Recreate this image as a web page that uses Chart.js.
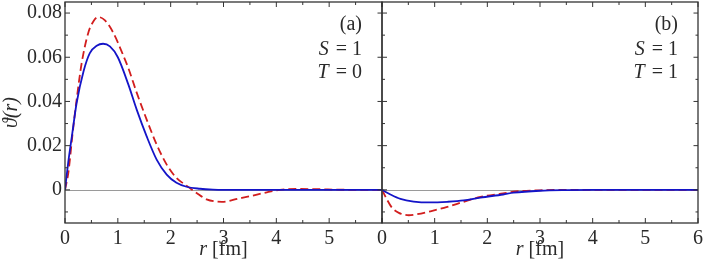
<!DOCTYPE html>
<html>
<head>
<meta charset="utf-8">
<script src="https://cdn.jsdelivr.net/npm/chart.js@4/dist/chart.umd.min.js"></script>
<style>
html,body{margin:0;padding:0;background:#fff;}
#wrap{position:relative;width:706px;height:266px;}
canvas{position:absolute;left:0;top:0;}
</style>
</head>
<body>
<div id="wrap">
<canvas id="cA" width="706" height="266"></canvas>
<canvas id="cB" width="706" height="266"></canvas>
</div>
<script>
// ---- data ----
// panel (a): S = 1, T = 0
const rBlueA = [0, 0.06, 0.13, 0.22, 0.35, 0.47, 0.6, 0.72, 0.85, 1.0, 1.2, 1.357, 1.546, 1.735, 1.925, 2.11, 2.30, 2.555, 2.8, 3.0, 3.5, 4, 5, 6];
const vBlueA = [0, 0.0122, 0.0242, 0.0393, 0.0536, 0.0619, 0.0652, 0.0661, 0.0649, 0.0600, 0.0476, 0.0363, 0.0242, 0.0137, 0.0069, 0.0032, 0.0014, 0.0005, 0.0001, 0, 0, 0, 0, 0];
const rRedA = [0, 0.063, 0.145, 0.22, 0.316, 0.44, 0.536, 0.63, 0.757, 0.915, 1.1, 1.2, 1.357, 1.546, 1.735, 1.925, 2.11, 2.30, 2.49, 2.68, 2.97, 3.31, 3.5, 3.82, 4.07, 4.4, 4.8, 5.14, 5.5, 6];
const vRedA = [0, 0.0077, 0.0258, 0.0408, 0.0574, 0.0710, 0.0762, 0.0782, 0.0767, 0.0710, 0.0610, 0.0550, 0.0440, 0.0318, 0.0205, 0.0114, 0.0054, 0.0019, -0.0014, -0.0043, -0.0054, -0.0038, -0.0029, -0.0011, 0, 0.0004, 0.0003, 0.0001, 0, 0];
// panel (b): S = 1, T = 1
const rBlueB = [0, 0.16, 0.35, 0.6, 0.92, 1.24, 1.55, 1.87, 2.3, 2.5, 3.0, 3.5, 4, 5, 6];
const vBlueB = [0, -0.0021, -0.0041, -0.0053, -0.0057, -0.0054, -0.0048, -0.0035, -0.0021, -0.0013, -0.0004, -0.0001, 0, 0, 0];
const rRedB = [0, 0.095, 0.19, 0.32, 0.51, 0.67, 0.92, 1.24, 1.55, 1.87, 2.3, 2.5, 3.0, 3.5, 4, 5, 6];
const vRedB = [0, -0.0044, -0.0081, -0.0104, -0.0115, -0.0110, -0.0097, -0.0077, -0.0054, -0.0032, -0.0016, -0.0008, -0.0002, 0, 0, 0, 0];

const xMajor = [0, 1, 2, 3, 4, 5, 6];
const xMinor = [0.5, 1.5, 2.5, 3.5, 4.5, 5.5];
const yMajor = [0, 0.02, 0.04, 0.06, 0.08];
const yMinor = [-0.01, 0.01, 0.03, 0.05, 0.07];
const panelLabels = [["(a)", "1", "0"], ["(b)", "1", "1"]];

const SERIF = '"Liberation Serif", "Times New Roman", serif';
const BLUE = '#1414c8';
const RED = '#d21e1e';
const TXT = '#2a2a2a';
const FS = 20;

function pts(rs, vs) { return rs.map((r, i) => ({x: r, y: vs[i]})); }

function framePlugin(panel) {
  return {
    id: 'frame' + panel,
    beforeDatasetsDraw(chart) {
      const {ctx, chartArea: a, scales: {y}} = chart;
      const y0 = y.getPixelForValue(0);
      ctx.save();
      ctx.strokeStyle = '#9a9a9a';
      ctx.lineWidth = 1;
      ctx.beginPath();
      ctx.moveTo(a.left, Math.round(y0) + 0.5);
      ctx.lineTo(a.right, Math.round(y0) + 0.5);
      ctx.stroke();
      ctx.restore();
    },
    afterDraw(chart) {
      const {ctx, chartArea: a, scales: {x, y}} = chart;
      ctx.save();
      ctx.strokeStyle = '#333';
      ctx.lineWidth = 1.3;
      ctx.strokeRect(a.left, a.top, a.right - a.left, a.bottom - a.top);
      ctx.lineWidth = 1;
      ctx.beginPath();
      const tick = (x1, y1, x2, y2) => { ctx.moveTo(x1, y1); ctx.lineTo(x2, y2); };
      xMajor.forEach(v => { const px = x.getPixelForValue(v); tick(px, a.bottom, px, a.bottom - 5); tick(px, a.top, px, a.top + 5); });
      xMinor.forEach(v => { const px = x.getPixelForValue(v); tick(px, a.bottom, px, a.bottom - 3); tick(px, a.top, px, a.top + 3); });
      yMajor.forEach(v => { const py = y.getPixelForValue(v); tick(a.left, py, a.left + 5, py); tick(a.right, py, a.right - 4.5, py); });
      yMinor.forEach(v => { const py = y.getPixelForValue(v); tick(a.left, py, a.left + 3, py); if (panel === 1) tick(a.right, py, a.right - 2.5, py); });
      ctx.stroke();
      ctx.fillStyle = TXT;
      ctx.textBaseline = 'middle';
      // x axis title: italic r + [fm]
      {
        ctx.font = FS + 'px ' + SERIF;
        const rest = ' [fm]';
        const wr = ctx.measureText(rest).width;
        ctx.font = 'italic ' + FS + 'px ' + SERIF;
        const wi = ctx.measureText('r').width;
        const cx = (a.left + a.right) / 2;
        const x0 = cx - (wr + wi) / 2;
        ctx.textAlign = 'left';
        ctx.fillText('r', x0, 250);
        ctx.font = FS + 'px ' + SERIF;
        ctx.fillText(rest, x0 + wi, 250);
      }
      // panel labels
      const lab = panelLabels[panel];
      const xr = a.right - 20;
      ctx.textAlign = 'right';
      ctx.font = FS + 'px ' + SERIF;
      ctx.fillText(lab[0], xr, a.top + 23);
      const lines = [['S', lab[1], a.top + 47.5], ['T', lab[2], a.top + 71]];
      lines.forEach(([sym, val, yy]) => {
        ctx.font = FS + 'px ' + SERIF;
        ctx.textAlign = 'right';
        const wv = ctx.measureText(val).width;
        ctx.fillText(val, xr, yy);
        const eqR = xr - wv - 5;
        const we = ctx.measureText('=').width;
        ctx.fillText('=', eqR, yy);
        ctx.font = 'italic ' + FS + 'px ' + SERIF;
        ctx.fillText(sym, eqR - we - 7, yy);
      });
      ctx.restore();
    }
  };
}

function makeChart(id, panel, blue, red) {
  const isA = panel === 0;
  return new Chart(document.getElementById(id), {
    type: 'line',
    data: {
      datasets: [
        {data: blue, borderColor: BLUE, borderWidth: 1.8, pointRadius: 0, cubicInterpolationMode: 'monotone', fill: false},
        {data: red, borderColor: RED, borderWidth: 1.8, borderDash: [8, 4], pointRadius: 0, cubicInterpolationMode: 'monotone', fill: false}
      ]
    },
    options: {
      responsive: false,
      animation: false,
      events: [],
      layout: {padding: {left: 0, top: 2, right: isA ? 324 : 8, bottom: 5}},
      plugins: {legend: {display: false}, tooltip: {enabled: false}},
      scales: {
        x: {
          type: 'linear', min: 0, max: 6,
          grid: {display: false, drawTicks: false},
          border: {display: false},
          afterBuildTicks: s => { s.ticks = xMajor.map(v => ({value: v})); },
          ticks: {
            padding: 4, color: TXT,
            font: {family: SERIF, size: FS},
            maxRotation: 0, autoSkip: false,
            callback: v => (isA && v === 6) ? '' : String(v)
          },
          title: {display: false},
          afterFit: s => { s.height = 38; s.paddingLeft = 0; s.paddingRight = 0; }
        },
        y: {
          type: 'linear', min: -0.015, max: 0.085,
          grid: {display: false, drawTicks: false},
          border: {display: false},
          afterBuildTicks: s => { s.ticks = yMajor.map(v => ({value: v})); },
          ticks: {
            display: isA, padding: 3, color: TXT, autoSkip: false,
            font: {family: SERIF, size: FS},
            callback: v => Math.abs(v) < 1e-9 ? '0' : v.toFixed(2)
          },
          title: {display: isA, text: 'ϑ(r)', color: TXT, font: {family: SERIF, size: FS, style: 'italic', lineHeight: 1.2}, padding: 0},
          afterFit: s => { s.width = isA ? 65 : 382; s.paddingTop = 0; s.paddingBottom = 0; }
        }
      }
    },
    plugins: [framePlugin(panel)]
  });
}

makeChart('cA', 0, pts(rBlueA, vBlueA), pts(rRedA, vRedA));
makeChart('cB', 1, pts(rBlueB, vBlueB), pts(rRedB, vRedB));
</script>
</body>
</html>
